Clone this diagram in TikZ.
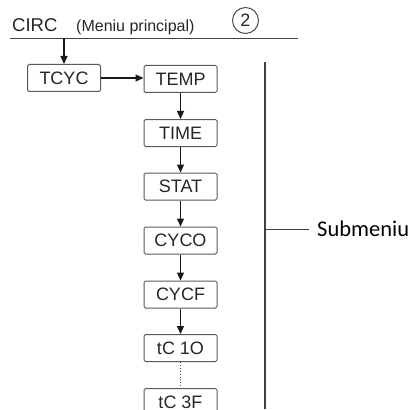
\documentclass[tikz,border=0pt]{standalone}
\usepackage{fontspec}
\setmainfont{Liberation Sans}
\newfontfamily\calfont{Carlito}
\usetikzlibrary{arrows.meta}
\begin{document}
\begin{tikzpicture}[x=1pt,y=-1pt,
  menubox/.style={draw=black!65, line width=1pt, rounded corners=1.5pt, minimum width=73pt, minimum height=27pt, inner sep=0pt, text=black!85, font=\fontsize{18}{18}\selectfont},
  conn/.style={draw=black!90, line width=1.1pt, -{Triangle[length=8pt,width=7pt]}},
  rule/.style={draw=black!75, line width=1.4pt}]
\useasboundingbox (0,0) rectangle (417,409);
\node[anchor=base west, inner sep=0pt, font=\fontsize{18.5}{18.5}\selectfont, text=black!85] (circ) at (12,32) {CIRC};
\node[anchor=base west, inner sep=0pt, font=\fontsize{16}{16}\selectfont, text=black!85] (meniu) at (76,32) {(Meniu principal)};
\node[circle, draw=black!70, line width=1pt, minimum size=26pt, inner sep=0pt, font=\fontsize{18}{18}\selectfont, text=black!85] (two) at (245.5,20.5) {2};
\coordinate (lineL) at (10,38.5);
\coordinate (lineR) at (298,38.5);
\draw[rule] (lineL) -- (lineR);
\node[menubox] (tcyc) at (64,78) {TCYC};
\node[menubox] (temp) at (180.5,79) {TEMP};
\node[menubox] (time) at (180.5,133) {TIME};
\node[menubox] (stat) at (180.5,186.5) {STAT};
\node[menubox] (cyco) at (180.5,240.5) {CYCO};
\node[menubox] (cycf) at (180.5,294.5) {CYCF};
\node[menubox] (tc1o) at (180.5,348) {tC 1O};
\node[menubox] (tc3f) at (180.5,402) {tC 3F};
\coordinate (drop) at (64,38.5);
\draw[conn] (drop) -- (tcyc.north);
\draw[conn] (tcyc.east) -- (temp.west |- tcyc.east);
\draw[conn] (temp) -- (time);
\draw[conn] (time) -- (stat);
\draw[conn] (stat) -- (cyco);
\draw[conn] (cyco) -- (cycf);
\draw[conn] (cycf) -- (tc1o);
\draw[draw=black!70, line width=0.9pt, dotted] (tc1o) -- (tc3f);
\coordinate (vtop) at (265,62);
\coordinate (vbot) at (265,409);
\coordinate (vmid) at (265,229);
\coordinate (tick) at (309,229);
\draw[rule] (vtop) -- (vbot);
\draw[draw=black!75, line width=1pt] (vmid) -- (tick);
\node[anchor=west, inner sep=0pt, font=\calfont\fontsize{22.5}{22.5}\selectfont] (sub) at (317,229) {Submeniu};
\end{tikzpicture}
\end{document}
